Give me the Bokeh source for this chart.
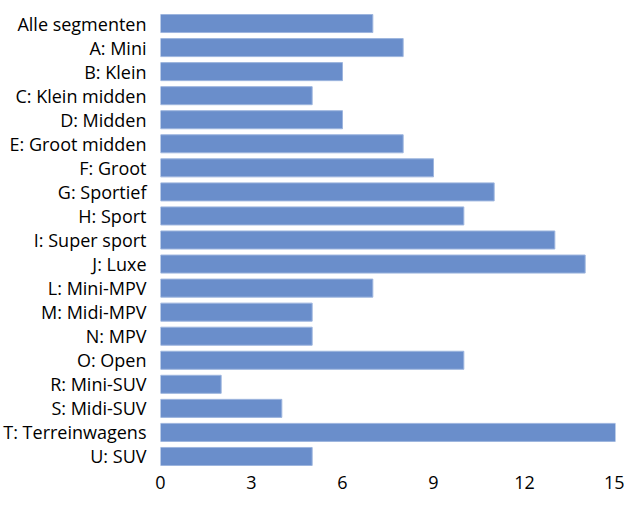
from bokeh.plotting import figure
from bokeh.models import Range1d, FactorRange, FixedTicker
from bokeh.embed import file_html
from bokeh.resources import INLINE

categories = ["Alle segmenten", "A: Mini", "B: Klein", "C: Klein midden", "D: Midden",
              "E: Groot midden", "F: Groot", "G: Sportief", "H: Sport", "I: Super sport",
              "J: Luxe", "L: Mini-MPV", "M: Midi-MPV", "N: MPV", "O: Open",
              "R: Mini-SUV", "S: Midi-SUV", "T: Terreinwagens", "U: SUV"]
values = [7, 8, 6, 5, 6, 8, 9, 11, 10, 13, 14, 7, 5, 5, 10, 2, 4, 15, 5]
x_ticks = [0, 3, 6, 9, 12, 15]

p = figure(width=624, height=498, output_backend="svg", toolbar_location=None,
           y_range=FactorRange(*list(reversed(categories)), range_padding=0),
           x_range=Range1d(0, 15),
           min_border_left=158, min_border_right=9, min_border_top=11, min_border_bottom=30)
p.hbar(y=categories, right=values, left=0, height=0.75,
       fill_color="#6a8ecb", line_color="#9db5de", line_width=1)

p.outline_line_color = None
p.xgrid.grid_line_color = None
p.ygrid.grid_line_color = None

for ax in (p.xaxis[0], p.yaxis[0]):
    ax.axis_line_color = None
    ax.major_tick_line_color = None
    ax.minor_tick_line_color = None
    ax.major_label_text_font = "Open Sans"
    ax.major_label_text_font_size = "18px"
    ax.major_label_text_color = "#000000"

p.xaxis.ticker = FixedTicker(ticks=x_ticks)
p.xaxis.major_label_standoff = 1
p.yaxis.major_label_standoff = 8

open("out.html", "w").write(file_html(p, INLINE))
